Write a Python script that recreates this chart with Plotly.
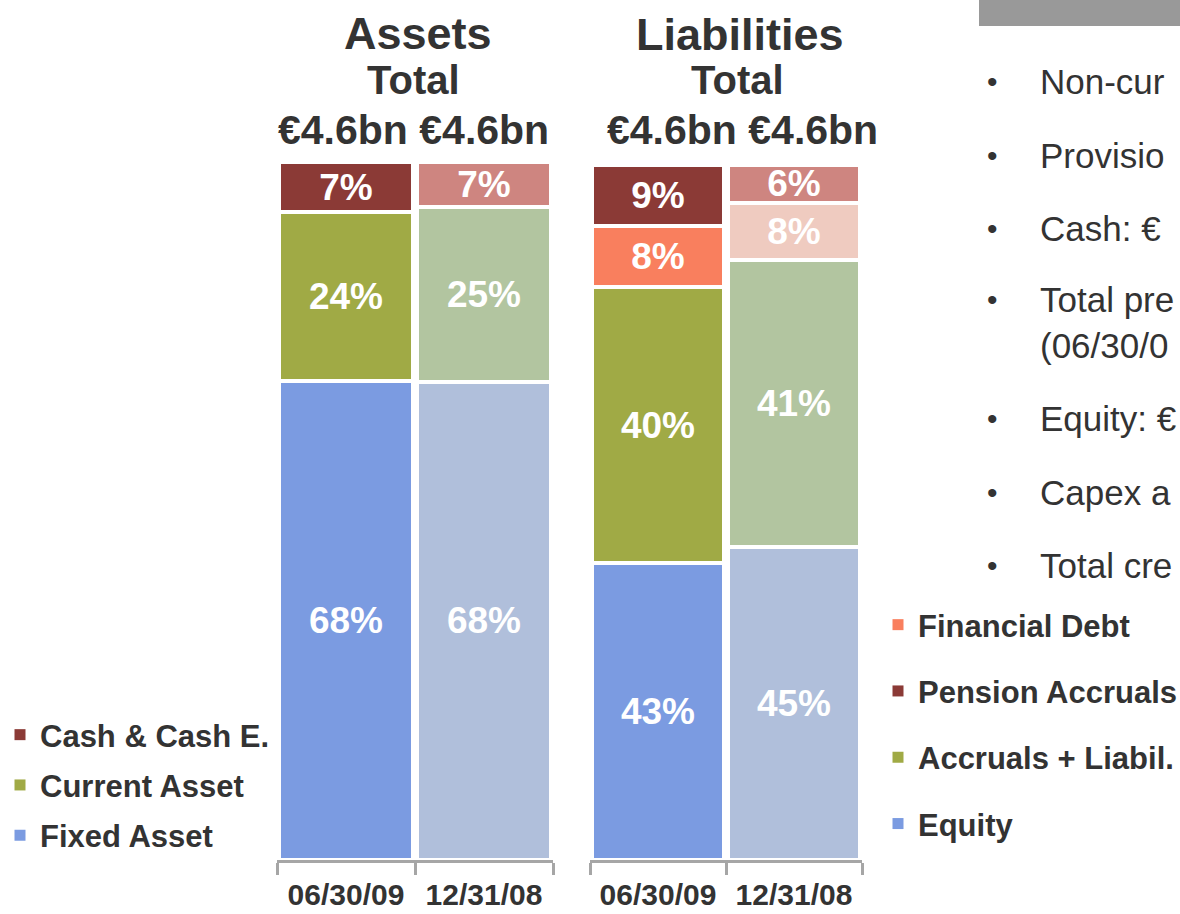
import plotly.graph_objects as go

W, H = 1180, 914
FONT = "Liberation Sans, Arial, sans-serif"
DARK_TXT = "#333333"


def px(x):
    return x / W


def py(y):
    return 1 - y / H


# ---------------- data ----------------
dates = ["06/30/09", "12/31/08"]

# Assets, share of total (%)
fixed_asset = [68.6, 68.5]
current_asset = [24.2, 25.1]
cash_equiv = [7.2, 6.4]
fixed_asset_lbl = ["68%", "68%"]
current_asset_lbl = ["24%", "25%"]
cash_equiv_lbl = ["7%", "7%"]

# Liabilities, share of total (%)
equity = [42.7, 45.0]
accruals_liabil = [39.7, 41.3]
financial_debt = [8.8, 8.3]
pension_accruals = [8.8, 5.4]
equity_lbl = ["43%", "45%"]
accruals_liabil_lbl = ["40%", "41%"]
financial_debt_lbl = ["8%", "8%"]
pension_accruals_lbl = ["9%", "6%"]

bullets = [
    ["Non-cur"],
    ["Provisio"],
    ["Cash: €"],
    ["Total pre", "(06/30/0"],
    ["Equity: €"],
    ["Capex a"],
    ["Total cre"],
]

# colours: [06/30/09, 12/31/08]
C_RED = ["#8B3A36", "#CE8580"]
C_OLIVE = ["#A0AA45", "#B2C5A0"]
C_BLUE = ["#7B9BE1", "#B0BFDB"]
C_ORANGE = ["#F97F5E", "#EFCBC0"]

fig = go.Figure()


def add_bar(name, vals, lbls, colors, xa, ya, legend, rank):
    fig.add_trace(go.Bar(
        name=name, x=dates, y=vals, text=lbls,
        xaxis=xa, yaxis=ya, showlegend=False,
        marker=dict(color=colors, line=dict(color="white", width=4)),
        textposition="inside", insidetextanchor="middle", constraintext="none",
        textangle=0,
        textfont=dict(family=FONT, size=37, color="white", weight="bold"),
        hoverinfo="skip",
    ))
    # legend entry (solid square swatch in the series' main colour)
    fig.add_trace(go.Scatter(
        name=name, x=[dates[0]], y=[None], mode="markers",
        xaxis=xa, yaxis=ya, legend=legend, legendgroup=name, legendrank=rank,
        marker=dict(symbol="square", size=11, color=colors[0]),
        hoverinfo="skip",
    ))


add_bar("Fixed Asset", fixed_asset, fixed_asset_lbl, C_BLUE, "x", "y", "legend", 3)
add_bar("Current Asset", current_asset, current_asset_lbl, C_OLIVE, "x", "y", "legend", 2)
add_bar("Cash & Cash E.", cash_equiv, cash_equiv_lbl, C_RED, "x", "y", "legend", 1)

add_bar("Equity", equity, equity_lbl, C_BLUE, "x2", "y2", "legend2", 4)
add_bar("Accruals + Liabil.", accruals_liabil, accruals_liabil_lbl, C_OLIVE, "x2", "y2", "legend2", 3)
add_bar("Financial Debt", financial_debt, financial_debt_lbl, C_ORANGE, "x2", "y2", "legend2", 1)
add_bar("Pension Accruals", pension_accruals, pension_accruals_lbl, C_RED, "x2", "y2", "legend2", 2)

axis_common = dict(
    type="category", showline=True, linecolor="#A6A6A6", linewidth=3,
    ticks="outside", tickson="boundaries", ticklen=12, tickwidth=3,
    tickcolor="#A6A6A6", showgrid=False, zeroline=False,
    tickfont=dict(family=FONT, size=30, color=DARK_TXT, weight="bold"),
    ticklabelstandoff=6, fixedrange=True,
)

fig.update_layout(
    width=W, height=H,
    margin=dict(l=0, r=0, t=0, b=0, autoexpand=False),
    paper_bgcolor="white", plot_bgcolor="white",
    barmode="stack", bargap=0.025,
    showlegend=True,
    xaxis=dict(domain=[px(277), px(553)], anchor="y", **axis_common),
    xaxis2=dict(domain=[px(590), px(862)], anchor="y2", **axis_common),
    yaxis=dict(domain=[py(860), py(162)], range=[0, 100], visible=False, fixedrange=True),
    yaxis2=dict(domain=[py(860), py(165)], range=[0, 100], visible=False,
                anchor="x2", fixedrange=True),
    legend=dict(x=0, y=py(708), xanchor="left", yanchor="top",
                traceorder="grouped", tracegroupgap=7,
                font=dict(family=FONT, size=31, color=DARK_TXT, weight="bold"),
                bgcolor="rgba(0,0,0,0)"),
    legend2=dict(x=px(878), y=py(598), xanchor="left", yanchor="top",
                 traceorder="grouped", tracegroupgap=23,
                 font=dict(family=FONT, size=31, color=DARK_TXT, weight="bold"),
                 bgcolor="rgba(0,0,0,0)"),
)

# titles
titles = [
    ("Assets", 418, 33, 45), ("Total", 413, 80, 40), ("€4.6bn €4.6bn", 413, 130, 41),
    ("Liabilities", 740, 35, 45), ("Total", 737, 80, 40), ("€4.6bn €4.6bn", 742, 130, 41),
]
for txt, x, y, s in titles:
    fig.add_annotation(text=f"<b>{txt}</b>", x=px(x), y=py(y), xref="paper", yref="paper",
                       xanchor="center", yanchor="middle", showarrow=False,
                       font=dict(family=FONT, size=s, color=DARK_TXT))

# grey header bar (top right)
fig.add_shape(type="rect", xref="paper", yref="paper", x0=px(979), x1=1, y0=py(26), y1=1,
              fillcolor="#999999", line=dict(width=0), layer="above")

# bullet text
bullet_y = [82, 155, 228, 300, 418, 492, 565]
for lines, y in zip(bullets, bullet_y):
    fig.add_annotation(text="•", x=px(992), y=py(y), xref="paper", yref="paper",
                       xanchor="center", yanchor="middle", showarrow=False,
                       font=dict(family=FONT, size=30, color=DARK_TXT))
    for i, ln in enumerate(lines):
        fig.add_annotation(text=ln, x=px(1038), y=py(y + 45 * i), xref="paper", yref="paper",
                           xanchor="left", yanchor="middle", showarrow=False,
                           font=dict(family=FONT, size=35, color=DARK_TXT))

fig.write_html(
    "out.html",
    config={"displayModeBar": False},
    post_script=(
        "document.documentElement.style.overflow='hidden';"
        "document.body.style.overflow='hidden';"
        "document.body.style.margin='0';document.body.style.padding='0';"
    ),
)
